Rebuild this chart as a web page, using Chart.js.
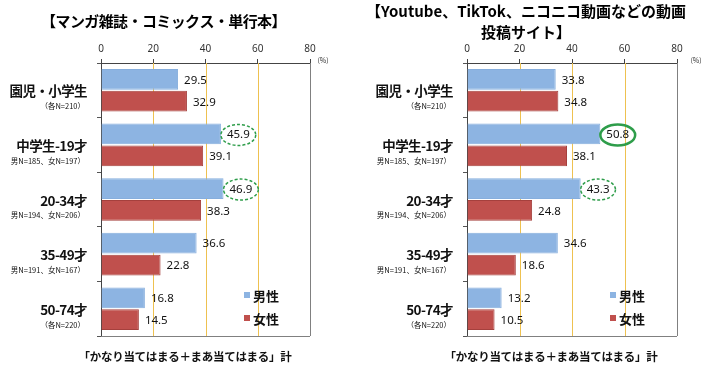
<!DOCTYPE html>
<html>
<head>
<meta charset="utf-8">
<script src="https://cdn.jsdelivr.net/npm/chart.js@4"></script>
<style>
  body { margin: 0; background: #fff; }
  canvas { position: absolute; top: 0; }
  #leftChart { left: 0; }
  #rightChart { left: 355px; }
</style>
</head>
<body>
<canvas id="leftChart" width="355" height="375"></canvas>
<canvas id="rightChart" width="355" height="375"></canvas>
<script>
const ageGroups = ['園児・小学生', '中学生-19才', '20-34才', '35-49才', '50-74才'];
const sampleSizes = ['（各N=210）', '男N=185、女N=197）', '男N=194、女N=206）', '男N=191、女N=167）', '（各N=220）'];
const seriesNames = ['男性', '女性'];

// マンガ雑誌・コミックス・単行本
const mangaMale = [29.5, 45.9, 46.9, 36.6, 16.8];
const mangaFemale = [32.9, 39.1, 38.3, 22.8, 14.5];

// 動画投稿サイト
const videoMale = [33.8, 50.8, 43.3, 34.6, 13.2];
const videoFemale = [34.8, 38.1, 24.8, 18.6, 10.5];

const axisTicks = [0, 20, 40, 60, 80];
const footNote = '「かなり当てはまる＋まあ当てはまる」計';

const JP = '"Noto Sans CJK JP", "Noto Sans", sans-serif';
const NUM = '"Noto Sans", "Noto Sans CJK JP", sans-serif';
const BLUE = '#8db4e2';
const RED = '#c0504d';
const GOLD = '#eec150';

const overlay = {
    id: 'overlay',
    beforeDatasetsDraw(chart) {
        // 縦の補助線 (20, 40, 60) と右枠
        const ctx = chart.ctx;
        const a = chart.chartArea;
        const xs = chart.scales.x;
        ctx.save();
        ctx.lineWidth = 1;
        axisTicks.forEach((v, k) => {
            if (k === 0) return;
            const x = Math.round(xs.getPixelForValue(v)) + 0.5;
            ctx.strokeStyle = k === axisTicks.length - 1 ? '#808080' : GOLD;
            ctx.beginPath();
            ctx.moveTo(x, a.top);
            ctx.lineTo(x, a.bottom);
            ctx.stroke();
        });
        ctx.restore();
    },
    afterDatasetsDraw(chart, args, o) {
        const ctx = chart.ctx;
        const a = chart.chartArea;
        ctx.save();
        // 下枠
        ctx.strokeStyle = '#808080';
        ctx.lineWidth = 1;
        ctx.beginPath();
        ctx.moveTo(a.left, Math.round(a.bottom) + 0.5);
        ctx.lineTo(a.right, Math.round(a.bottom) + 0.5);
        ctx.stroke();

        // 数値ラベル
        ctx.font = '11.5px ' + NUM;
        ctx.fillStyle = '#111';
        ctx.textBaseline = 'middle';
        ctx.textAlign = 'left';
        chart.data.datasets.forEach((ds, di) => {
            chart.getDatasetMeta(di).data.forEach((bar, i) => {
                const txt = ds.data[i].toFixed(1);
                const w = ctx.measureText(txt).width;
                const x = bar.x + 6;
                ctx.fillText(txt, x, bar.y + 1);
                const c = o.circled.find(c => c.ds === di && c.i === i);
                if (c) {
                    ctx.save();
                    ctx.strokeStyle = '#2e9d4a';
                    if (c.solid) {
                        ctx.lineWidth = 2.5;
                    } else {
                        ctx.lineWidth = 1.5;
                        ctx.setLineDash([3, 2]);
                    }
                    ctx.beginPath();
                    ctx.ellipse(x + w / 2, bar.y + 1, w / 2 + 6, 10.5, 0, 0, Math.PI * 2);
                    ctx.stroke();
                    ctx.restore();
                }
            });
        });
        ctx.restore();
    },
    afterDraw(chart, args, o) {
        const ctx = chart.ctx;
        const a = chart.chartArea;
        const yScale = chart.scales.y;
        ctx.save();

        // タイトル
        ctx.fillStyle = '#000';
        ctx.textAlign = 'center';
        ctx.textBaseline = 'middle';
        ctx.font = 'bold 15px ' + JP;
        ctx.letterSpacing = o.titleSpacing;
        const cx = (a.left + a.right) / 2 + o.titleShift;
        o.title.forEach((line, k) => {
            ctx.fillText(line, cx, o.titleY[k]);
        });
        ctx.letterSpacing = '0px';

        // (%)
        ctx.font = '7px ' + JP;
        ctx.fillStyle = '#333';
        ctx.fillText('(%)', a.right + o.pctOffset, 60);

        // カテゴリラベル
        ctx.textAlign = 'right';
        ctx.fillStyle = '#111';
        ageGroups.forEach((g, i) => {
            const y = yScale.getPixelForValue(i);
            ctx.font = 'bold 13.5px ' + JP;
            ctx.letterSpacing = '-0.6px';
            ctx.fillText(g, a.left - 14, y + 1);
            ctx.letterSpacing = '0px';
            ctx.font = '7.5px ' + JP;
            ctx.fillText(sampleSizes[i], a.left - 16, y + 16);
        });

        // 凡例
        ctx.textAlign = 'left';
        ctx.font = 'bold 13px ' + JP;
        chart.data.datasets.forEach((ds, di) => {
            const y = 295 + di * 23;
            ctx.fillStyle = ds.backgroundColor;
            ctx.fillRect(a.left + 143, y - 3, 6, 6);
            ctx.fillStyle = '#111';
            ctx.fillText(ds.label, a.left + 152, y + 1);
        });

        // 注記
        ctx.textAlign = 'center';
        ctx.font = 'bold 11.5px ' + JP;
        ctx.letterSpacing = '-0.3px';
        ctx.fillText(footNote, a.left + 84, 357);
        ctx.letterSpacing = '0px';
        ctx.restore();
    }
};

function createChart(id, male, female, opts) {
    const ctx = document.getElementById(id).getContext('2d');
    return new Chart(ctx, {
        type: 'bar',
        data: {
            labels: ageGroups,
            datasets: [
                {
                    label: seriesNames[0],
                    data: male,
                    backgroundColor: BLUE,
                    borderColor: '#86aedd',
                    borderWidth: 1
                },
                {
                    label: seriesNames[1],
                    data: female,
                    backgroundColor: RED,
                    borderColor: '#a5403d',
                    borderWidth: 1
                }
            ]
        },
        options: {
            indexAxis: 'y',
            responsive: false,
            animation: false,
            devicePixelRatio: 1,
            categoryPercentage: 0.8,
            barPercentage: 0.95,
            layout: { padding: { left: 0, right: opts.padRight, top: 0, bottom: 39 } },
            scales: {
                x: {
                    position: 'top',
                    min: 0,
                    max: 80,
                    afterBuildTicks: s => { s.ticks = axisTicks.map(v => ({ value: v })); },
                    afterFit: s => { s.height = 63; },
                    ticks: { font: { size: 10, family: NUM }, color: '#333', padding: 4 },
                    grid: {
                        drawOnChartArea: false,
                        tickColor: '#444',
                        tickLength: 4
                    },
                    border: { color: '#444' }
                },
                y: {
                    afterFit: s => { s.width = opts.axisLeft; },
                    ticks: { display: false },
                    grid: { offset: true, drawOnChartArea: false, tickLength: 4, color: '#555' },
                    border: { color: '#444' }
                }
            },
            plugins: {
                legend: { display: false },
                tooltip: { enabled: false },
                overlay: {
                    title: opts.title,
                    titleY: opts.titleY,
                    titleShift: opts.titleShift,
                    titleSpacing: opts.titleSpacing,
                    circled: opts.circled,
                    pctOffset: opts.pctOffset
                }
            }
        },
        plugins: [overlay]
    });
}

createChart('leftChart', mangaMale, mangaFemale, {
    padRight: 45,
    axisLeft: 101,
    title: ['【マンガ雑誌・コミックス・単行本】'],
    titleY: [21],
    titleShift: -42,
    titleSpacing: '-0.6px',
    pctOffset: 13,
    circled: [{ ds: 0, i: 1, solid: false }, { ds: 0, i: 2, solid: false }]
});

createChart('rightChart', videoMale, videoFemale, {
    padRight: 33,
    axisLeft: 112,
    title: ['【Youtube、TikTok、ニコニコ動画などの動画', '投稿サイト】'],
    titleY: [11, 32],
    titleShift: -46,
    titleSpacing: '0px',
    pctOffset: 19,
    circled: [{ ds: 0, i: 1, solid: true }, { ds: 0, i: 2, solid: false }]
});
</script>
</body>
</html>
